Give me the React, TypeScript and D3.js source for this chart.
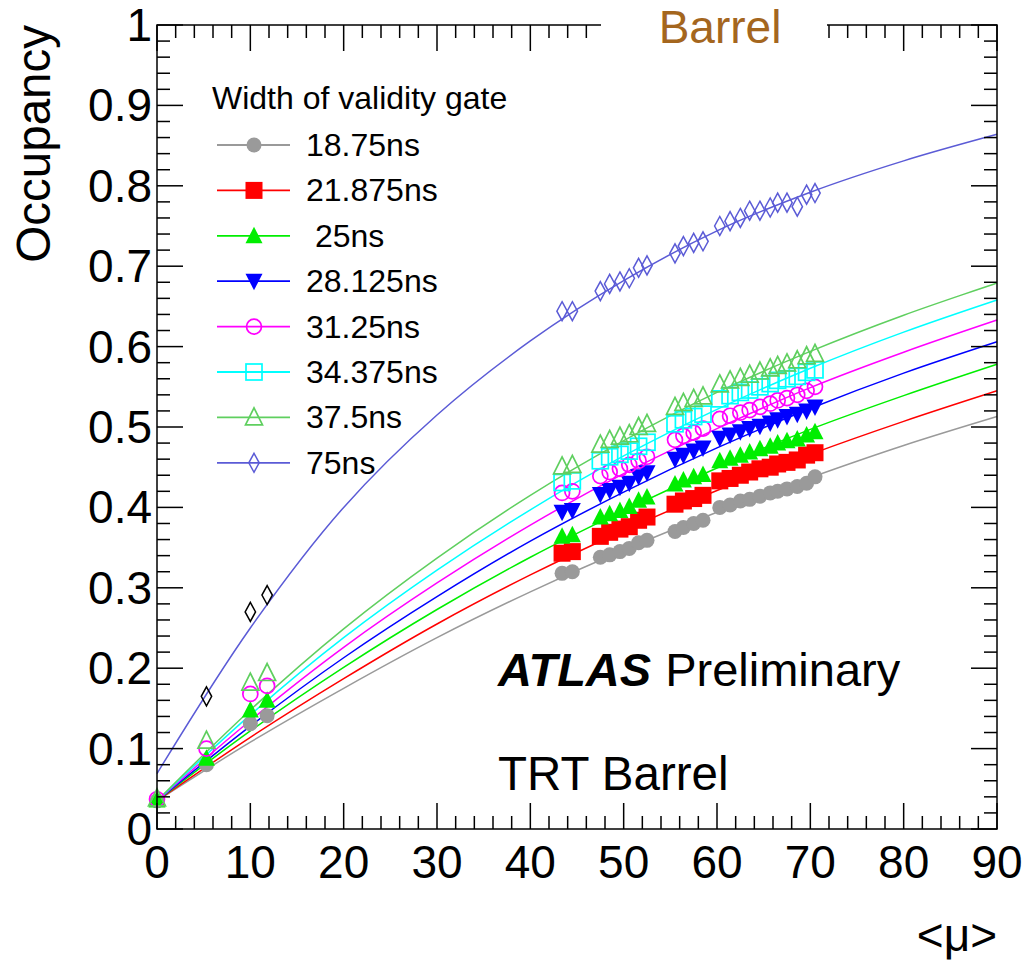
import React from "react";
import * as d3 from "d3";

const W = 1025;
const H = 963;

const muLow = [0, 5.3, 10, 11.8];
const muHigh = [43.4, 44.5, 47.5, 48.5, 49.6, 50.6, 51.6, 52.5, 55.5, 56.4, 57.5, 58.5, 60.3, 61.4, 62.5, 63.5, 64.6, 65.7, 66.5, 67.5, 68.6, 69.6, 70.5];
const fitMu = [0, 10, 20, 30, 40, 50, 60, 70, 80, 90];

const labels = ["18.75ns", "21.875ns", " 25ns", "28.125ns", "31.25ns", "34.375ns", "37.5ns", "75ns"];
const colors = ["#9a9a9a", "#ff0000", "#00ee00", "#0000ff", "#ff00ff", "#00ffff", "#5fcf5f", "#5b5bd6"];
const markers = ["circleFilled", "squareFilled", "triUp", "triDown", "circleOpen", "squareOpen", "triUpOpen", "diamondOpen"];

const low1875 = [0.035, 0.080, 0.131, 0.141];
const high1875 = [0.318, 0.320, 0.338, 0.341, 0.345, 0.349, 0.356, 0.359, 0.370, 0.375, 0.380, 0.384, 0.400, 0.403, 0.408, 0.410, 0.414, 0.418, 0.420, 0.423, 0.426, 0.430, 0.438];
const high21875 = [0.343, 0.345, 0.364, 0.369, 0.373, 0.376, 0.384, 0.388, 0.404, 0.408, 0.411, 0.415, 0.433, 0.436, 0.440, 0.444, 0.448, 0.450, 0.454, 0.456, 0.459, 0.465, 0.468];
const low25 = [0.036, 0.088, 0.148, 0.160];
const high25 = [0.364, 0.366, 0.388, 0.392, 0.396, 0.401, 0.409, 0.413, 0.429, 0.434, 0.438, 0.441, 0.458, 0.461, 0.465, 0.469, 0.473, 0.476, 0.480, 0.483, 0.485, 0.490, 0.494];
const high28125 = [0.394, 0.396, 0.416, 0.421, 0.425, 0.430, 0.438, 0.443, 0.460, 0.465, 0.470, 0.474, 0.486, 0.490, 0.494, 0.498, 0.501, 0.505, 0.509, 0.513, 0.516, 0.520, 0.525];
const low3125 = [0.037, 0.100, 0.168, 0.178];
const high3125 = [0.418, 0.420, 0.439, 0.444, 0.448, 0.453, 0.458, 0.463, 0.484, 0.489, 0.493, 0.498, 0.510, 0.514, 0.518, 0.521, 0.525, 0.529, 0.533, 0.536, 0.540, 0.545, 0.550];
const high34375 = [0.431, 0.433, 0.458, 0.463, 0.466, 0.470, 0.476, 0.481, 0.504, 0.509, 0.513, 0.516, 0.535, 0.539, 0.543, 0.546, 0.550, 0.554, 0.558, 0.560, 0.563, 0.568, 0.571];
const low375 = [0.038, 0.110, 0.182, 0.194];
const high375 = [0.451, 0.453, 0.478, 0.484, 0.488, 0.491, 0.500, 0.504, 0.525, 0.530, 0.535, 0.538, 0.553, 0.558, 0.561, 0.565, 0.569, 0.573, 0.576, 0.579, 0.583, 0.588, 0.591];
const muLow75 = [5.3, 10, 11.8];
const low75 = [0.165, 0.270, 0.291];
const high75 = [0.644, 0.644, 0.669, 0.678, 0.681, 0.685, 0.698, 0.701, 0.716, 0.725, 0.729, 0.731, 0.750, 0.756, 0.760, 0.769, 0.769, 0.773, 0.779, 0.779, 0.774, 0.789, 0.791];

const fit1875 = [0.035, 0.108, 0.175, 0.238, 0.295, 0.347, 0.394, 0.437, 0.477, 0.513];
const fit21875 = [0.035, 0.114, 0.187, 0.255, 0.316, 0.371, 0.421, 0.466, 0.507, 0.545];
const fit25 = [0.035, 0.122, 0.201, 0.273, 0.338, 0.396, 0.449, 0.497, 0.539, 0.578];
const fit28125 = [0.035, 0.128, 0.213, 0.289, 0.358, 0.419, 0.474, 0.523, 0.567, 0.606];
const fit3125 = [0.035, 0.135, 0.226, 0.306, 0.378, 0.442, 0.498, 0.549, 0.593, 0.633];
const fit34375 = [0.035, 0.142, 0.238, 0.322, 0.397, 0.464, 0.522, 0.573, 0.618, 0.658];
const fit375 = [0.035, 0.148, 0.249, 0.337, 0.415, 0.483, 0.543, 0.594, 0.639, 0.679];
const fit75 = [0.069, 0.25, 0.40, 0.515, 0.607, 0.682, 0.744, 0.792, 0.831, 0.864];

const xMajor = [0, 10, 20, 30, 40, 50, 60, 70, 80, 90];
const yMajor = [0, 0.1, 0.2, 0.3, 0.4, 0.5, 0.6, 0.7, 0.8, 0.9, 1];
const yLabels = ["0", "0.1", "0.2", "0.3", "0.4", "0.5", "0.6", "0.7", "0.8", "0.9", "1"];

type Series = { lowMu: number[]; low: number[]; high: number[]; fit: number[]; lowColor?: string };
const series: Series[] = [
  { lowMu: muLow, low: low1875, high: high1875, fit: fit1875 },
  { lowMu: [], low: [], high: high21875, fit: fit21875 },
  { lowMu: muLow, low: low25, high: high25, fit: fit25 },
  { lowMu: [], low: [], high: high28125, fit: fit28125 },
  { lowMu: muLow, low: low3125, high: high3125, fit: fit3125 },
  { lowMu: [], low: [], high: high34375, fit: fit34375 },
  { lowMu: muLow, low: low375, high: high375, fit: fit375 },
  { lowMu: muLow75, low: low75, high: high75, fit: fit75, lowColor: "#000000" },
];

const L = 157, R = 997, T = 25, B = 829;
const FONT = "'Liberation Sans', Arial, Helvetica, sans-serif";

function Marker({ type, x, y, color }: { type: string; x: number; y: number; color: string }) {
  const sw = 1.7;
  switch (type) {
    case "circleFilled":
      return <circle cx={x} cy={y} r={7.5} fill={color} />;
    case "squareFilled":
      return <rect x={x - 8.5} y={y - 8.5} width={17} height={17} fill={color} />;
    case "triUp":
      return <path d={`M${x},${y - 9}L${x + 8.5},${y + 7.5}L${x - 8.5},${y + 7.5}Z`} fill={color} />;
    case "triDown":
      return <path d={`M${x},${y + 9}L${x + 8.5},${y - 7.5}L${x - 8.5},${y - 7.5}Z`} fill={color} />;
    case "circleOpen":
      return <circle cx={x} cy={y} r={7.5} fill="none" stroke={color} strokeWidth={sw} />;
    case "squareOpen":
      return <rect x={x - 8} y={y - 8} width={16} height={16} fill="none" stroke={color} strokeWidth={sw} />;
    case "triUpOpen":
      return <path d={`M${x},${y - 9.5}L${x + 8.5},${y + 7.5}L${x - 8.5},${y + 7.5}Z`} fill="none" stroke={color} strokeWidth={sw} />;
    case "diamondOpen":
      return <path d={`M${x},${y - 9.5}L${x + 5.2},${y}L${x},${y + 9.5}L${x - 5.2},${y}Z`} fill="none" stroke={color} strokeWidth={1.5} />;
    default:
      return null;
  }
}

export default function App() {
  const x = d3.scaleLinear().domain([0, 90]).range([L, R]);
  const y = d3.scaleLinear().domain([0, 1]).range([B, T]);
  const line = d3
    .line<number>()
    .x((_, i) => x(fitMu[i]))
    .y((d) => y(d))
    .curve(d3.curveCatmullRom);

  const xMinor = d3.range(0, 91, 2);
  const yMinor = d3.range(0, 51).map((i) => i * 0.02);

  const tickEls: JSX.Element[] = [];
  xMinor.forEach((v, i) => {
    const major = xMajor.includes(v);
    const len = major ? 26 : 13;
    tickEls.push(<line key={"xb" + i} x1={x(v)} x2={x(v)} y1={B} y2={B - len} />);
    tickEls.push(<line key={"xt" + i} x1={x(v)} x2={x(v)} y1={T} y2={T + len} />);
  });
  yMinor.forEach((v, i) => {
    const major = i % 5 === 0;
    const len = major ? 26 : 13;
    tickEls.push(<line key={"yl" + i} x1={L} x2={L + len} y1={y(v)} y2={y(v)} />);
    tickEls.push(<line key={"yr" + i} x1={R} x2={R - len} y1={y(v)} y2={y(v)} />);
  });

  const legX1 = 217, legX2 = 290, legMX = 254, legTX = 306;
  const legY0 = 145, legDY = 45.4;

  return (
    <div style={{ position: "absolute", left: 0, top: 0 }}>
      <svg width={W} height={H} style={{ display: "block", background: "#fff" }}>
        <rect x={0} y={0} width={W} height={H} fill="#fff" />
        {series.map((s, si) => (
          <g key={"s" + si}>
            <path d={line(s.fit) || ""} fill="none" stroke={colors[si]} strokeWidth={1.5} />
          </g>
        ))}
        {series.map((s, si) => (
          <g key={"p" + si}>
            {s.low.map((v, i) => (
              <Marker key={"l" + i} type={markers[si]} x={x(s.lowMu[i])} y={y(v)} color={s.lowColor || colors[si]} />
            ))}
            {s.high.map((v, i) => (
              <Marker key={"h" + i} type={markers[si]} x={x(muHigh[i])} y={y(v)} color={colors[si]} />
            ))}
          </g>
        ))}
        <g stroke="#000" strokeWidth={1.5}>
          {tickEls}
          <rect x={L} y={T} width={R - L} height={B - T} fill="none" />
        </g>
        <rect x={601} y={0} width={226} height={56} fill="#fff" />
        <text x={720} y={43} textAnchor="middle" fontFamily={FONT} fontSize={46} fill="#a4661e">
          Barrel
        </text>
        <g fontFamily={FONT} fontSize={46} fill="#000">
          {yMajor.map((v, i) => (
            <text key={"yt" + i} x={152} y={y(v)} textAnchor="end" dominantBaseline="central">
              {yLabels[i]}
            </text>
          ))}
          {xMajor.map((v, i) => (
            <text key={"xt" + i} x={x(v)} y={878} textAnchor="middle">
              {String(v)}
            </text>
          ))}
          <text x={997} y={951} textAnchor="end">
            {"<\u03bc>"}
          </text>
          <text transform={`translate(50,${T}) rotate(-90)`} textAnchor="end" fontSize={47.5}>
            Occupancy
          </text>
          <text x={498} y={686} fontSize={47}>
            <tspan fontWeight="bold" fontStyle="italic">ATLAS</tspan>
            <tspan dx={14}>Preliminary</tspan>
          </text>
          <text x={498} y={790} fontSize={47.5}>TRT Barrel</text>
        </g>
        <g fontFamily={FONT} fontSize={32} fill="#000">
          <text x={212} y={98} dominantBaseline="central">
            Width of validity gate
          </text>
          {labels.map((lab, i) => {
            const ly = legY0 + i * legDY;
            return (
              <g key={"lg" + i}>
                <line x1={legX1} x2={legX2} y1={ly} y2={ly} stroke={colors[i]} strokeWidth={1.8} />
                <Marker type={markers[i]} x={legMX} y={ly} color={colors[i]} />
                <text x={legTX} y={ly} dominantBaseline="central" style={{ whiteSpace: "pre" }}>
                  {lab}
                </text>
              </g>
            );
          })}
        </g>
      </svg>
    </div>
  );
}
